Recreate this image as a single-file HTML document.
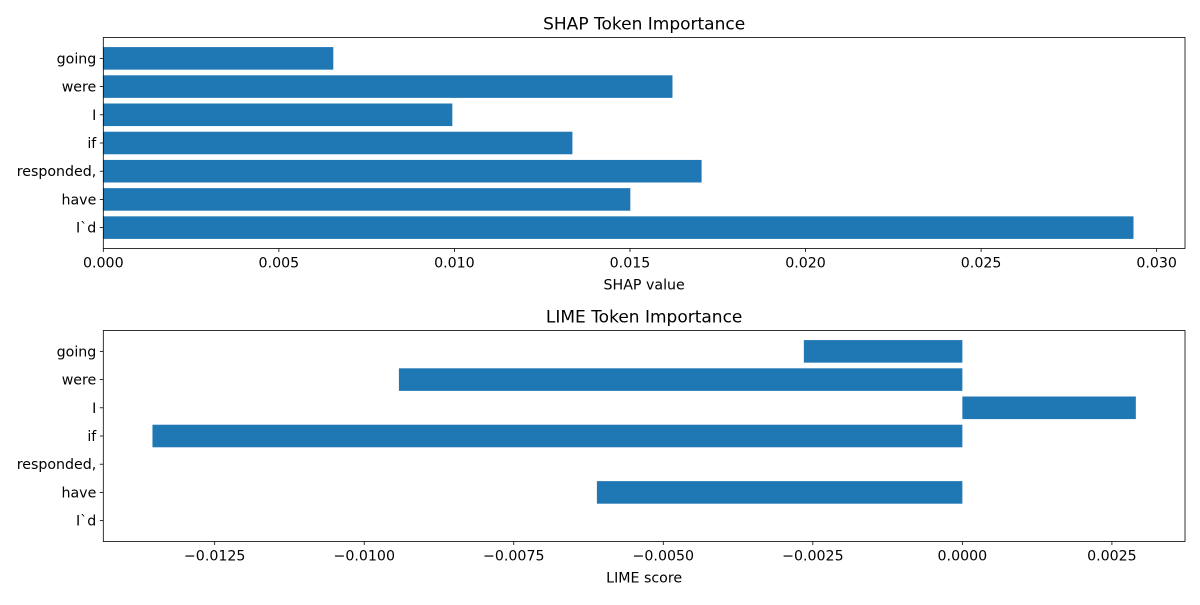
<!DOCTYPE html>
<html><head><meta charset="utf-8">
<style>
body{margin:0;background:#fff;}
svg text{font-family:"DejaVu Sans","Liberation Sans",sans-serif;fill:#000;}
</style></head>
<body>
<svg id="fig" width="1200" height="600" xmlns="http://www.w3.org/2000/svg"></svg>
<script>
const tokens = ["I`d","have","responded,","if","I","were","going"];
const shapValues = [0.02934, 0.01501, 0.01704, 0.01336, 0.00994, 0.01621, 0.00655];
const limeValues = [0, -0.00611, 0, -0.01354, 0.00290, -0.00942, -0.00265];
const shapTicks = [0, 0.005, 0.010, 0.015, 0.020, 0.025, 0.030];
const shapTickLabels = ["0.000","0.005","0.010","0.015","0.020","0.025","0.030"];
const limeTicks = [-0.0125, -0.0100, -0.0075, -0.0050, -0.0025, 0, 0.0025];
const limeTickLabels = ["\u22120.0125","\u22120.0100","\u22120.0075","\u22120.0050","\u22120.0025","0.0000","0.0025"];

const NS="http://www.w3.org/2000/svg";
const svg=document.getElementById('fig');
function mk(tag,attrs,parent){const e=document.createElementNS(NS,tag);for(const k in attrs)e.setAttribute(k,attrs[k]);(parent||svg).appendChild(e);return e;}

function panel(cfg){
  const L=103.3,R=1185,T=cfg.top,B=cfg.top+211;
  const g=mk('g',{});
  
  
  let mn=Math.min(0,...cfg.values),mx=Math.max(0,...cfg.values);
  const span=mx-mn;
  let x0=mn<0?mn-0.05*span:0, x1=mx>0?mx+0.05*span:0;
  const xs=v=>L+(v-x0)/(x1-x0)*(R-L);
  const n=tokens.length;
  const y0=-0.4-0.05*(n-1+0.8), y1=n-1+0.4+0.05*(n-1+0.8);
  const ys=i=>B-(i-y0)/(y1-y0)*(B-T);
  cfg.values.forEach((v,i)=>{
    const a=xs(Math.min(0,v)),b=xs(Math.max(0,v));
    const r=mk('rect',{x:a,y:ys(i+0.4),width:Math.max(0,b-a),height:ys(i-0.4)-ys(i+0.4),fill:'#1f77b4'},g);
    
    
    mk('line',{x1:L,x2:L-3.5,y1:ys(i),y2:ys(i),stroke:'#000','stroke-width':0.8},g);
    const t=mk('text',{x:L-7,y:ys(i)+5,'text-anchor':'end','font-size':14.2},g);
    t.textContent=tokens[i];
    
    
  });
  cfg.ticks.forEach((v,i)=>{
    const x=xs(v);
    mk('line',{x1:x,x2:x,y1:B,y2:B+3.5,stroke:'#000','stroke-width':0.8},g);
    const t=mk('text',{x:x,y:B+19,'text-anchor':'middle','font-size':14.2},g);
    t.textContent=cfg.labels[i];
    
    
  });
  const fr=mk('rect',{x:L,y:T,width:R-L,height:B-T,fill:'none',stroke:'#000','stroke-width':0.8},g);
  
  
  const tt=mk('text',{x:(L+R)/2,y:T-8,'text-anchor':'middle','font-size':17},g);
  tt.textContent=cfg.title;
  
  
  const xl=mk('text',{x:(L+R)/2,y:B+41,'text-anchor':'middle','font-size':14.2},g);
  xl.textContent=cfg.xlabel;
  
  
}
panel({name:'shap-panel',top:37.5,values:shapValues,ticks:shapTicks,labels:shapTickLabels,title:'SHAP Token Importance',xlabel:'SHAP value'});
panel({name:'lime-panel',top:330.5,values:limeValues,ticks:limeTicks,labels:limeTickLabels,title:'LIME Token Importance',xlabel:'LIME score'});
</script>
</body></html>
